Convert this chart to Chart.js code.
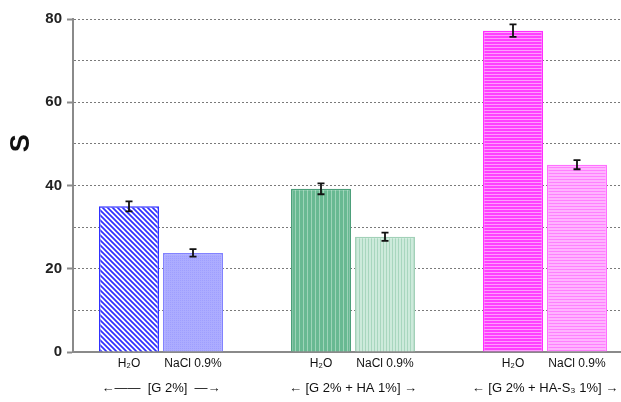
<!DOCTYPE html>
<html>
<head>
<meta charset="utf-8">
<script src="https://cdn.jsdelivr.net/npm/chart.js@4"></script>
<style>
  html, body { margin: 0; padding: 0; background: #fff; }
  #wrap { width: 621px; height: 402px; }
</style>
</head>
<body>
<div id="wrap"><canvas id="swellChart"></canvas></div>
<script>
// data
const groups = ["[G 2%]", "[G 2% + HA 1%]", "[G 2% + HA-S\u2083 1%]"];
const groupArrows = [["\u2190\u2014\u2014  ", "  \u2014\u2192"], ["\u2190 ", " \u2192"], ["\u2190 ", " \u2192"]];
const media = ["H\u2082O", "NaCl 0.9%"];
const h2oValues = [35.0, 39.2, 77.2];
const naclValues = [23.8, 27.7, 45.0];
const h2oErrors = [1.2, 1.3, 1.5];
const naclErrors = [0.9, 1.0, 1.1];
const yTicks = [0, 20, 40, 60, 80];

// bar fills (hatching like the original)
function makePattern(w, h, base, draw) {
    const c = document.createElement("canvas");
    c.width = w; c.height = h;
    const g = c.getContext("2d");
    g.fillStyle = base;
    g.fillRect(0, 0, w, h);
    draw(g);
    return g.createPattern(c, "repeat");
}
const fills = [
    makePattern(5, 5, "#ffffff", g => {
        g.strokeStyle = "#3030ff"; g.lineWidth = 1.7;
        g.beginPath();
        g.moveTo(-1, -1); g.lineTo(6, 6);
        g.moveTo(-1, 4); g.lineTo(1, 6);
        g.moveTo(4, -1); g.lineTo(6, 1);
        g.stroke();
    }),
    makePattern(2, 2, "#acacff", g => { g.fillStyle = "#9e9eff"; g.fillRect(0, 0, 1, 1); }),
    makePattern(4, 1, "#68b992", g => { g.fillStyle = "#9dd4b8"; g.fillRect(3, 0, 1, 1); }),
    makePattern(3, 1, "#cdeadb", g => { g.fillStyle = "#a8d6be"; g.fillRect(2, 0, 1, 1); }),
    makePattern(1, 3, "#ff40ff", g => { g.fillStyle = "#ff9cff"; g.fillRect(0, 2, 1, 1); }),
    makePattern(1, 3, "#ffb4ff", g => { g.fillStyle = "#ff80ff"; g.fillRect(0, 2, 1, 1); })
];
const borders = ["#3030ff", "#8282ff", "#4c9f7a", "#a2d1b8", "#ff2eff", "#ff70ff"];

// bars: two per group, one empty slot between groups
const points = [];
const errors = [];
groups.forEach((g, i) => {
    points.push({ x: i * 3 + 1, y: h2oValues[i] });
    points.push({ x: i * 3 + 2, y: naclValues[i] });
    errors.push(h2oErrors[i], naclErrors[i]);
});
const barTicks = points.map(p => p.x);
const groupTicks = groups.map((g, i) => i * 3 + 1.5);

const errorBars = {
    id: "errorBars",
    afterDatasetsDraw(chart) {
        const ctx = chart.ctx;
        const y = chart.scales.y;
        chart.getDatasetMeta(0).data.forEach((bar, i) => {
            const v = points[i].y;
            const top = y.getPixelForValue(v + errors[i]);
            const bot = y.getPixelForValue(v - errors[i]);
            ctx.save();
            ctx.strokeStyle = "#111";
            ctx.lineWidth = 1.8;
            ctx.beginPath();
            ctx.moveTo(bar.x, top); ctx.lineTo(bar.x, bot);
            ctx.moveTo(bar.x - 3.5, top); ctx.lineTo(bar.x + 3.5, top);
            ctx.moveTo(bar.x - 3.5, bot); ctx.lineTo(bar.x + 3.5, bot);
            ctx.stroke();
            ctx.restore();
        });
    }
};

const yTitle = {
    id: "yTitle",
    afterDraw(chart) {
        const ctx = chart.ctx;
        const a = chart.chartArea;
        ctx.save();
        ctx.translate(22, a.top + (a.bottom - a.top) * 0.373);
        ctx.rotate(-Math.PI / 2);
        ctx.font = "bold 27px 'Liberation Sans', Arial, sans-serif";
        ctx.fillStyle = "#111";
        ctx.textAlign = "center";
        ctx.textBaseline = "middle";
        ctx.fillText("S", 0, 0);
        ctx.restore();
    }
};

const noSidePad = s => { s.paddingLeft = 0; s.paddingRight = 0; };

new Chart(document.getElementById("swellChart"), {
    type: "bar",
    data: {
        datasets: [{
            data: points,
            backgroundColor: fills,
            borderColor: borders,
            borderWidth: 1.5,
            borderSkipped: "bottom",
            barPercentage: 0.9375,
            categoryPercentage: 1
        }]
    },
    options: {
        responsive: true,
        maintainAspectRatio: false,
        animation: false,
        layout: { padding: { top: 19, right: 0, bottom: 0, left: 0 } },
        plugins: { legend: { display: false }, tooltip: { enabled: false } },
        scales: {
            x: {
                type: "linear",
                position: "bottom",
                offset: false,
                weight: 0,
                min: 0.125,
                max: 8.6875,
                afterBuildTicks: s => { s.ticks = barTicks.map(v => ({ value: v })); },
                afterFit: noSidePad,
                grid: { display: false, drawTicks: false, offset: false },
                border: { color: "#8a8a8a", width: 2 },
                ticks: {
                    autoSkip: false, maxRotation: 0, padding: 4,
                    color: "#111",
                    font: { family: "'Liberation Sans', Arial, sans-serif", size: 12 },
                    callback: (v, i) => media[i % 2]
                }
            },
            x2: {
                type: "linear",
                position: "bottom",
                offset: false,
                weight: 1,
                min: 0.125,
                max: 8.6875,
                afterBuildTicks: s => { s.ticks = groupTicks.map(v => ({ value: v })); },
                afterFit: noSidePad,
                grid: { display: false, drawTicks: false, offset: false },
                border: { display: false },
                ticks: {
                    autoSkip: false, maxRotation: 0, padding: 6,
                    color: "#111",
                    font: { family: "'Liberation Sans', Arial, sans-serif", size: 13 },
                    callback: (v, i) => groupArrows[i][0] + groups[i] + groupArrows[i][1]
                }
            },
            y: {
                min: 0,
                max: 80,
                afterFit: s => { s.width = 73; },
                ticks: {
                    stepSize: 10,
                    padding: 5,
                    color: "#222",
                    font: { family: "'Liberation Sans', Arial, sans-serif", size: 15, weight: "bold" },
                    callback: v => (yTicks.includes(v) ? v : "")
                },
                grid: {
                    color: "#7a7a7a",
                    lineWidth: 1,
                    tickLength: 6,
                    tickColor: c => (yTicks.includes(c.tick.value) ? "#8a8a8a" : "rgba(0,0,0,0)"),
                    tickWidth: 2
                },
                border: { color: "#8a8a8a", width: 2, dash: [2, 2] }
            }
        }
    },
    plugins: [errorBars, yTitle]
});
</script>
</body>
</html>
